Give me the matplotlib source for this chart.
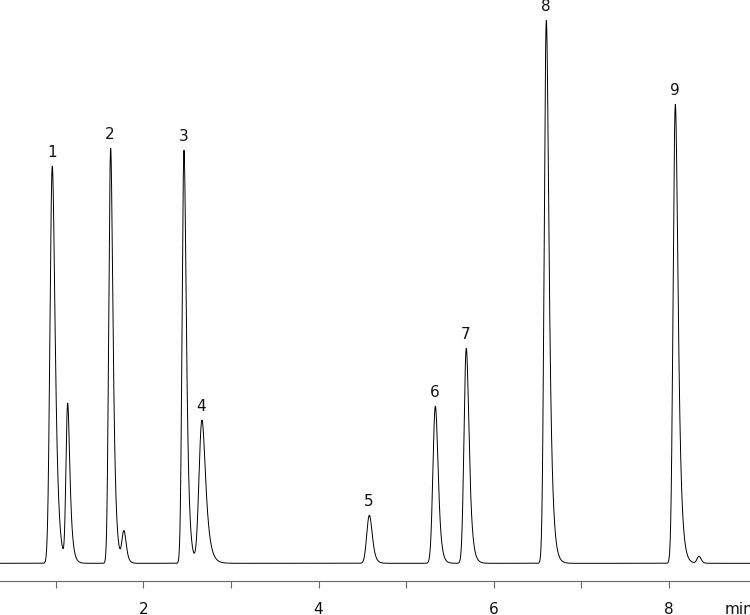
import numpy as np
import matplotlib
matplotlib.use("Agg")
import matplotlib.pyplot as plt

# Peak table (retention time in min, height in a.u.)
peak_labels = ["1", "", "2", "", "3", "4", "5", "6", "7", "8", "9", ""]
retention_times = [0.958, 1.134, 1.625, 1.777, 2.463, 2.668, 4.580, 5.334, 5.688, 6.602, 8.076, 8.346]
peak_heights = [397, 158, 415, 31, 413, 143, 48, 157, 215, 543, 459, 7]
peak_sigmas = [0.022, 0.016, 0.018, 0.020, 0.018, 0.028, 0.026, 0.024, 0.022, 0.020, 0.021, 0.020]
peak_tails = [0.030, 0.025, 0.025, 0.020, 0.025, 0.040, 0.025, 0.025, 0.028, 0.030, 0.030, 0.015]

tick_positions = [1, 2, 3, 4, 5, 6, 7, 8]
tick_labels = ["", "2", "", "4", "", "6", "", "8"]
x_unit = "min"

x_min, x_max = 0.3607, 8.929
dt = 0.0005
t = np.arange(x_min, x_max + dt, dt)


def emg_peak(t, rt, h, s, tau):
    g = np.exp(-0.5 * ((t - rt) / s) ** 2)
    kt = np.arange(0, 10 * tau, dt)
    k = np.exp(-kt / tau)
    y = np.convolve(g, k)[: len(t)]
    y = y / y.max()
    shift = int(round((t[np.argmax(y)] - rt) / dt))
    y = np.roll(y, -shift)
    if shift > 0:
        y[-shift:] = 0
    return h * y


signal = np.zeros_like(t)
for rt, h, s, tau in zip(retention_times, peak_heights, peak_sigmas, peak_tails):
    signal += emg_peak(t, rt, h, s, tau)

fig = plt.figure(figsize=(7.5, 6.15), dpi=100)
ax = fig.add_axes([0, 34 / 615, 1, 581 / 615])
ax.plot(t, signal, color="black", linewidth=0.7)
ax.set_xlim(x_min, x_max)
ax.set_ylim(-17.7, 563.3)

for sp in ["left", "right", "top"]:
    ax.spines[sp].set_visible(False)
ax.spines["bottom"].set_color("#666666")
ax.spines["bottom"].set_linewidth(0.8)
ax.set_yticks([])
ax.set_xticks(tick_positions)
ax.set_xticklabels(tick_labels)
ax.tick_params(axis="x", direction="out", length=5, width=0.8, color="#666666",
               pad=10, labelsize=11, labelcolor="#111111")

for lab, rt, h in zip(peak_labels, retention_times, peak_heights):
    if lab:
        ax.annotate(lab, (rt, h), xytext=(-0.5, 14), textcoords="offset pixels",
                    ha="center", va="center", fontsize=11, color="#111111",
                    annotation_clip=False)

fig.text(725 / 750, 1 - 609 / 615, x_unit, ha="left", va="center",
         fontsize=11, color="#111111")

fig.savefig("out.png", dpi=100)
